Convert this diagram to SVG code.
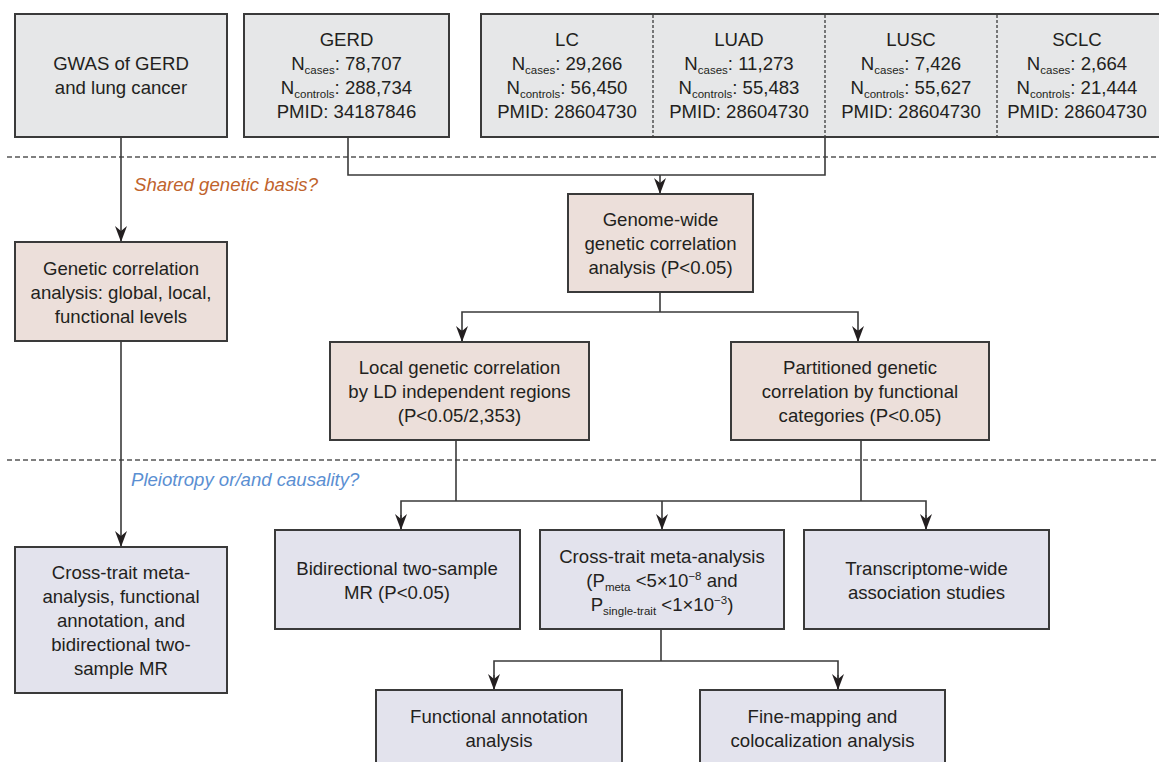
<svg xmlns="http://www.w3.org/2000/svg" width="1159" height="762" viewBox="0 0 1159 762">
<style>
text{font-family:"Liberation Sans",Arial,Helvetica,sans-serif;font-size:18.6px;fill:#231f20;text-anchor:middle}
.sub,.sup{font-size:11.5px}
.gray{fill:#e6e7e8;stroke:#3a3a3a;stroke-width:2}
.pink{fill:#ecdfda;stroke:#3a3a3a;stroke-width:2}
.lav{fill:#e3e3ed;stroke:#3a3a3a;stroke-width:2}
.ln{fill:none;stroke:#3a3a3a;stroke-width:1.6}
.arr{marker-end:url(#ah)}
.dash{fill:none;stroke:#555;stroke-width:1.5;stroke-dasharray:5 3}
.vdash{fill:none;stroke:#3a3a3a;stroke-width:1.3;stroke-dasharray:3 2}
.lbl{text-anchor:start;font-style:italic}
</style>
<defs>
<marker id="ah" markerUnits="userSpaceOnUse" viewBox="0 0 16 12" markerWidth="16" markerHeight="12" refX="16" refY="6" orient="auto">
<path d="M0,0 L16,6 L0,12 L5,6 z" fill="#231f20"/>
</marker>
</defs>
<g id="separators">
<line class="dash" x1="7" y1="157" x2="1159" y2="157"/>
<line class="dash" x1="7" y1="460" x2="1159" y2="460"/>
<text class="lbl" x="134" y="191" style="fill:#c0632c">Shared genetic basis?</text>
<text class="lbl" x="131" y="486" style="fill:#5b8fd2">Pleiotropy or/and causality?</text>
</g>
<g id="connectors">
<line class="ln arr" x1="121" y1="137" x2="121" y2="242"/>
<line class="ln arr" x1="121" y1="341" x2="121" y2="547"/>
<polyline class="ln" points="348,137 348,175 825,175 825,137"/>
<line class="ln arr" x1="660" y1="175" x2="660" y2="194"/>
<polyline class="ln" points="660,292 660,312"/>
<polyline class="ln" points="462,342 462,312 858,312 858,342"/>
<line class="ln arr" x1="462" y1="330" x2="462" y2="342"/>
<line class="ln arr" x1="858" y1="330" x2="858" y2="342"/>
<line class="ln" x1="456" y1="440" x2="456" y2="501"/>
<line class="ln" x1="861" y1="440" x2="861" y2="501"/>
<polyline class="ln" points="401,530 401,501 926,501 926,530"/>
<line class="ln arr" x1="401" y1="515" x2="401" y2="530"/>
<line class="ln arr" x1="662" y1="501" x2="662" y2="530"/>
<line class="ln arr" x1="926" y1="515" x2="926" y2="530"/>
<line class="ln" x1="661" y1="629" x2="661" y2="661"/>
<polyline class="ln" points="494,690 494,661 838,661 838,690"/>
<line class="ln arr" x1="494" y1="675" x2="494" y2="690"/>
<line class="ln arr" x1="838" y1="675" x2="838" y2="690"/>
</g>
<g id="gwas">
<rect class="gray" x="15" y="14" width="212" height="123"/>
<text x="121" y="70">GWAS of GERD</text>
<text x="121" y="94">and lung cancer</text>
</g>
<g id="gerd">
<rect class="gray" x="244" y="14" width="205" height="123"/>
<text x="346.5" y="46">GERD</text>
<text x="346.5" y="70">N<tspan class="sub" dy="4">cases</tspan><tspan dy="-4">: 78,707</tspan></text>
<text x="346.5" y="94">N<tspan class="sub" dy="4">controls</tspan><tspan dy="-4">: 288,734</tspan></text>
<text x="346.5" y="118">PMID: 34187846</text>
</g>
<g id="lungcancer">
<rect class="gray" x="481" y="14" width="682" height="123"/>
<line class="vdash" x1="653" y1="15" x2="653" y2="136"/>
<line class="vdash" x1="825" y1="15" x2="825" y2="136"/>
<line class="vdash" x1="997" y1="15" x2="997" y2="136"/>
<g id="lc">
<text x="567" y="46">LC</text>
<text x="567" y="70">N<tspan class="sub" dy="4">cases</tspan><tspan dy="-4">: 29,266</tspan></text>
<text x="567" y="94">N<tspan class="sub" dy="4">controls</tspan><tspan dy="-4">: 56,450</tspan></text>
<text x="567" y="118">PMID: 28604730</text>
</g>
<g id="luad">
<text x="739" y="46">LUAD</text>
<text x="739" y="70">N<tspan class="sub" dy="4">cases</tspan><tspan dy="-4">: 11,273</tspan></text>
<text x="739" y="94">N<tspan class="sub" dy="4">controls</tspan><tspan dy="-4">: 55,483</tspan></text>
<text x="739" y="118">PMID: 28604730</text>
</g>
<g id="lusc">
<text x="911" y="46">LUSC</text>
<text x="911" y="70">N<tspan class="sub" dy="4">cases</tspan><tspan dy="-4">: 7,426</tspan></text>
<text x="911" y="94">N<tspan class="sub" dy="4">controls</tspan><tspan dy="-4">: 55,627</tspan></text>
<text x="911" y="118">PMID: 28604730</text>
</g>
<g id="sclc">
<text x="1077" y="46">SCLC</text>
<text x="1077" y="70">N<tspan class="sub" dy="4">cases</tspan><tspan dy="-4">: 2,664</tspan></text>
<text x="1077" y="94">N<tspan class="sub" dy="4">controls</tspan><tspan dy="-4">: 21,444</tspan></text>
<text x="1077" y="118">PMID: 28604730</text>
</g>
</g>
<g id="genetic-correlation">
<rect class="pink" x="15" y="242" width="212" height="99"/>
<text x="121" y="275">Genetic correlation</text>
<text x="121" y="299">analysis: global, local,</text>
<text x="121" y="323">functional levels</text>
</g>
<g id="genome-wide">
<rect class="pink" x="568" y="194" width="185" height="98"/>
<text x="660.5" y="226">Genome-wide</text>
<text x="660.5" y="250">genetic correlation</text>
<text x="660.5" y="274">analysis (P&lt;0.05)</text>
</g>
<g id="local">
<rect class="pink" x="330" y="342" width="259" height="98"/>
<text x="459.5" y="374">Local genetic correlation</text>
<text x="459.5" y="398">by LD independent regions</text>
<text x="459.5" y="422">(P&lt;0.05/2,353)</text>
</g>
<g id="partitioned">
<rect class="pink" x="731" y="342" width="258" height="98"/>
<text x="860" y="374">Partitioned genetic</text>
<text x="860" y="398">correlation by functional</text>
<text x="860" y="422">categories (P&lt;0.05)</text>
</g>
<g id="cross-trait-left">
<rect class="lav" x="15" y="547" width="212" height="146"/>
<text x="121" y="579">Cross-trait meta-</text>
<text x="121" y="603">analysis, functional</text>
<text x="121" y="627">annotation, and</text>
<text x="121" y="651">bidirectional two-</text>
<text x="121" y="675">sample MR</text>
</g>
<g id="bidirectional">
<rect class="lav" x="275" y="530" width="245" height="99"/>
<text x="397" y="575">Bidirectional two-sample</text>
<text x="397" y="599">MR (P&lt;0.05)</text>
</g>
<g id="cross-trait-meta">
<rect class="lav" x="540" y="530" width="244" height="99"/>
<text x="662" y="563">Cross-trait meta-analysis</text>
<text x="662" y="587">(P<tspan class="sub" dy="4">meta</tspan><tspan dy="-4"> &lt;5×10</tspan><tspan class="sup" dy="-7">−8</tspan><tspan dy="7"> and</tspan></text>
<text x="662" y="611">P<tspan class="sub" dy="4">single-trait</tspan><tspan dy="-4"> &lt;1×10</tspan><tspan class="sup" dy="-7">−3</tspan><tspan dy="7">)</tspan></text>
</g>
<g id="twas">
<rect class="lav" x="804" y="530" width="245" height="99"/>
<text x="926.5" y="575">Transcriptome-wide</text>
<text x="926.5" y="599">association studies</text>
</g>
<g id="functional-annotation">
<rect class="lav" x="376" y="690" width="246" height="80"/>
<text x="499" y="723">Functional annotation</text>
<text x="499" y="747">analysis</text>
</g>
<g id="fine-mapping">
<rect class="lav" x="700" y="690" width="245" height="80"/>
<text x="822.5" y="723">Fine-mapping and</text>
<text x="822.5" y="747">colocalization analysis</text>
</g>
</svg>
